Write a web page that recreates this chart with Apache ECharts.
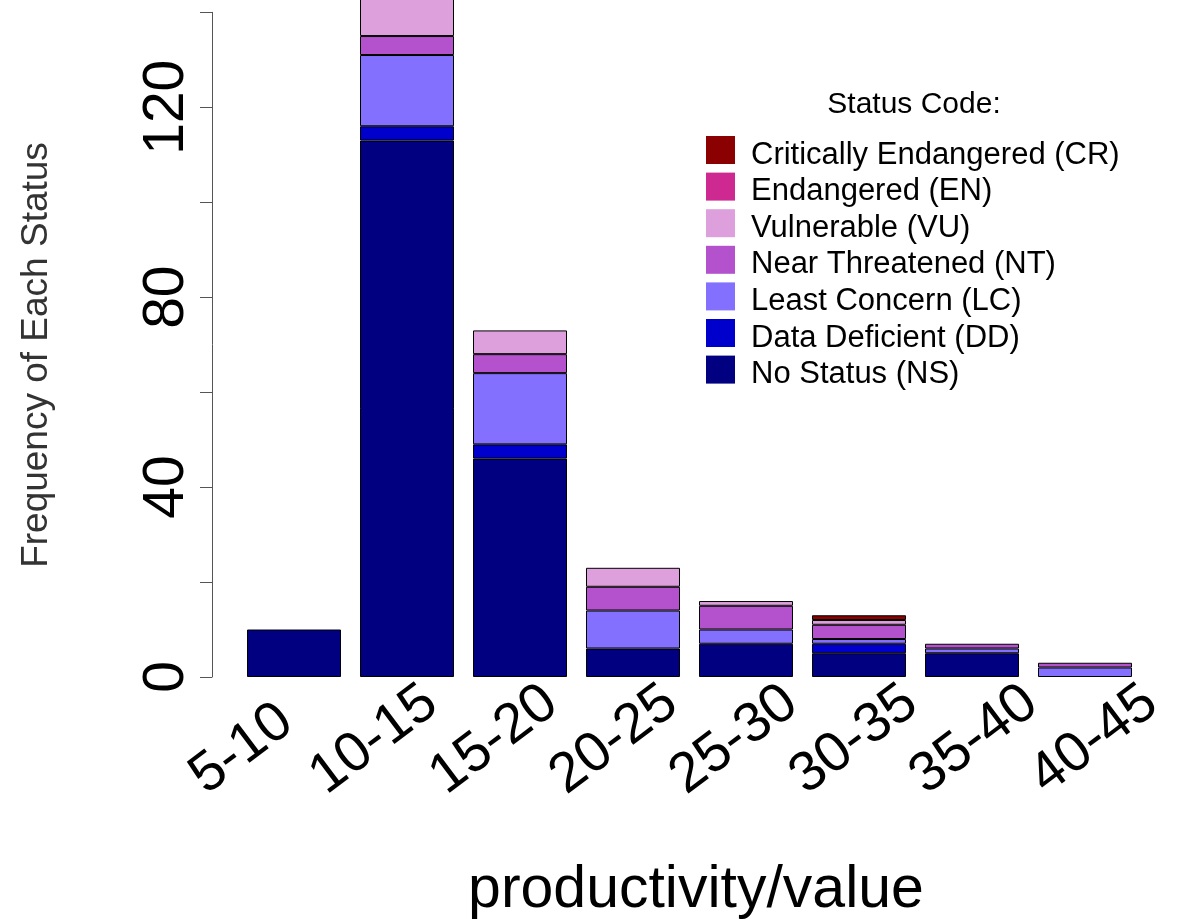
<!DOCTYPE html>
<html>
<head>
<meta charset="utf-8">
<script src="https://cdn.jsdelivr.net/npm/echarts@6/dist/echarts.min.js"></script>
<style>
  html, body { margin: 0; padding: 0; background: #ffffff; }
  #chart { width: 1191px; height: 919px; }
</style>
</head>
<body>
<div id="chart"></div>
<script>
// Productivity bins and the number of species in each conservation status
const categories = ['5-10', '10-15', '15-20', '20-25', '25-30', '30-35', '35-40', '40-45'];
const noStatus             = [10, 113, 46, 6, 7, 5, 5, 0];
const dataDeficient        = [0, 3, 3, 0, 0, 2, 0, 0];
const leastConcern         = [0, 15, 15, 8, 3, 1, 1, 2];
const nearThreatened       = [0, 4, 4, 5, 5, 3, 1, 1];
const vulnerable           = [0, 10, 5, 4, 1, 1, 0, 0];
const endangered           = [0, 0, 0, 0, 0, 0, 0, 0];
const criticallyEndangered = [0, 0, 0, 0, 0, 1, 0, 0];
const yLabelTicks = [0, 40, 80, 120];

const FONT = '"Liberation Sans", Arial, Helvetica, sans-serif';

// Stack order, bottom to top
const statusLayers = [
  { name: 'No Status (NS)',             values: noStatus,             color: '#000080' },
  { name: 'Data Deficient (DD)',        values: dataDeficient,        color: '#0000CD' },
  { name: 'Least Concern (LC)',         values: leastConcern,         color: '#8470FF' },
  { name: 'Near Threatened (NT)',       values: nearThreatened,       color: '#B452CD' },
  { name: 'Vulnerable (VU)',            values: vulnerable,           color: '#DDA0DD' },
  { name: 'Endangered (EN)',            values: endangered,           color: '#CD2990' },
  { name: 'Critically Endangered (CR)', values: criticallyEndangered, color: '#8B0000' }
];
const legendOrder = statusLayers.map(s => s.name).reverse();

// Plot frame (pixels)
const plotTop = 12.3;
const plotBottom = 677;
const barBand = 113;
const barGridLeft = 237.5;
const labelBand = 120;
const labelGridLeft = 197 - labelBand / 2;

const chart = echarts.init(document.getElementById('chart'), null, { renderer: 'canvas' });

const option = {
  animation: false,
  backgroundColor: '#ffffff',
  textStyle: { fontFamily: FONT },
  grid: [
    { left: barGridLeft, top: plotTop, width: barBand * categories.length, height: plotBottom - plotTop, containLabel: false },
    { left: labelGridLeft, top: plotTop, width: labelBand * categories.length, height: plotBottom - plotTop, containLabel: false }
  ],
  xAxis: [
    {
      gridIndex: 0, type: 'category', data: categories,
      axisLine: { show: false }, axisTick: { show: false }, axisLabel: { show: false },
      splitLine: { show: false }
    },
    {
      gridIndex: 1, type: 'category', data: categories,
      axisLine: { show: false }, axisTick: { show: false }, splitLine: { show: false },
      axisLabel: {
        interval: 0, rotate: 37, align: 'left', verticalAlign: 'middle',
        margin: 106, fontSize: 56, color: '#000000', fontFamily: FONT
      }
    }
  ],
  yAxis: [
    {
      gridIndex: 0, type: 'value', min: 0, max: 140, interval: 20, offset: 25.5,
      splitLine: { show: false },
      axisLine: { show: true, lineStyle: { color: '#555555', width: 1 } },
      axisTick: { show: true, length: 12, lineStyle: { color: '#555555', width: 1 } },
      axisLabel: {
        rotate: 90, margin: 16, fontSize: 57, color: '#000000', fontFamily: FONT,
        formatter: v => (yLabelTicks.includes(v) ? String(v) : '')
      }
    },
    { gridIndex: 1, type: 'value', min: 0, max: 1, show: false }
  ],
  legend: [
    // colour keys
    {
      data: legendOrder,
      orient: 'vertical', left: 706, top: 136, padding: 0,
      itemWidth: 29, itemHeight: 28, itemGap: 8.6, icon: 'rect',
      selectedMode: false,
      itemStyle: { borderWidth: 0 },
      formatter: () => '',
      textStyle: { fontSize: 1 }
    },
    // key labels
    {
      data: legendOrder,
      orient: 'vertical', left: 706, top: 139.5, padding: 0,
      itemWidth: 29, itemHeight: 28, itemGap: 5.6, icon: 'rect',
      selectedMode: false,
      itemStyle: { opacity: 0, borderWidth: 0 },
      textStyle: { fontSize: 31, color: '#000000', fontFamily: FONT, lineHeight: 28, padding: [0, 0, 0, 11] }
    }
  ],
  series: statusLayers.map(s => ({
    name: s.name,
    type: 'bar',
    xAxisIndex: 0, yAxisIndex: 0,
    stack: 'status',
    barWidth: 94,
    clip: false,
    itemStyle: { color: s.color, borderColor: '#000000', borderWidth: 1 },
    emphasis: { disabled: true },
    data: s.values.map(v => (v === 0 ? null : v))
  })),
  graphic: [
    {
      type: 'text', x: 37, y: 355, rotation: Math.PI / 2,
      style: { text: 'Frequency of Each Status', fontSize: 37, fontFamily: FONT, fill: '#333333', align: 'center', verticalAlign: 'middle' }
    },
    {
      type: 'text', x: 696, y: 891,
      style: { text: 'productivity/value', fontSize: 59, fontFamily: FONT, fill: '#000000', align: 'center', verticalAlign: 'middle' }
    },
    {
      type: 'text', x: 914, y: 105,
      style: { text: 'Status Code:', fontSize: 30, fontFamily: FONT, fill: '#000000', align: 'center', verticalAlign: 'middle' }
    }
  ]
};

chart.setOption(option);
</script>
</body>
</html>
